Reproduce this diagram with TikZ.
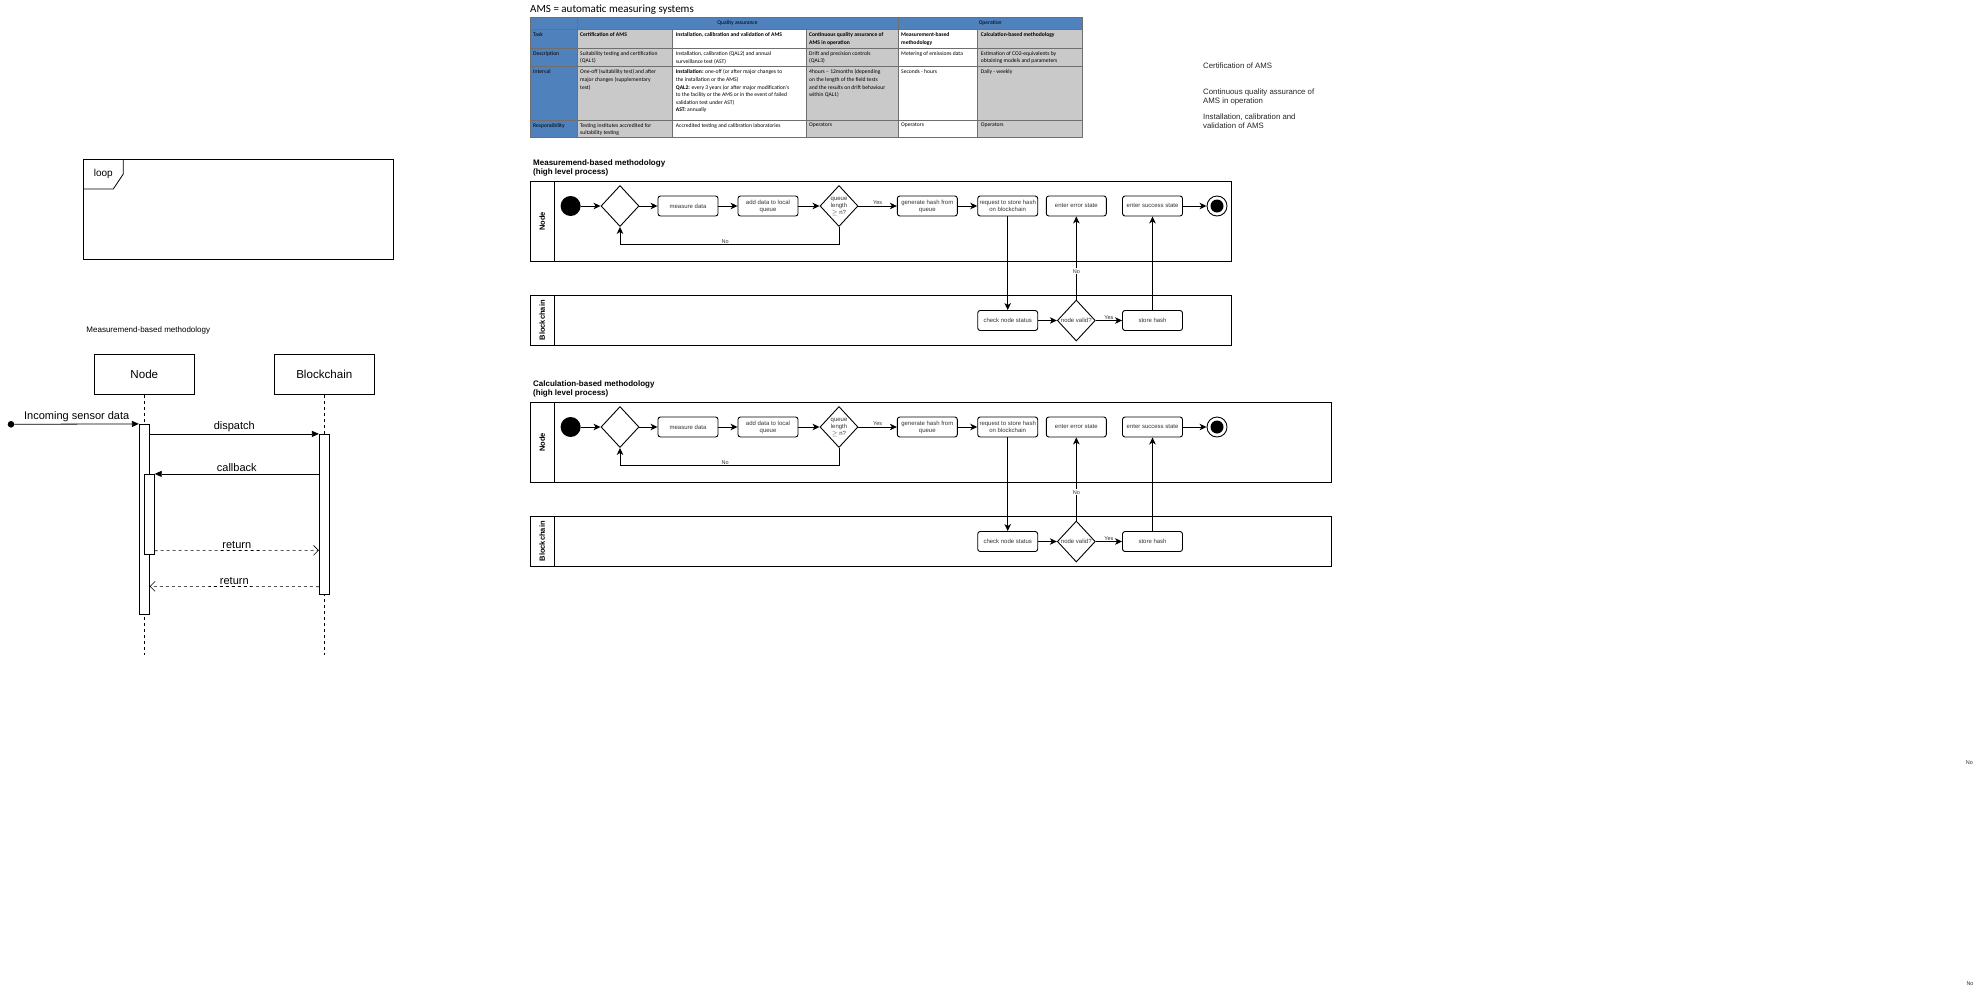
\documentclass[tikz,border=0pt]{standalone}
\usepackage{fontspec}
\setmainfont{Liberation Sans}
\newfontfamily\calibri{Carlito}
\usetikzlibrary{shapes.geometric}
\usetikzlibrary{arrows.meta}

\definecolor{xlblue}{HTML}{4F81BD}
\definecolor{xlgray}{HTML}{C9C9C9}
\definecolor{xlgrid}{HTML}{6F6F6F}

\tikzset{
  cell/.style={anchor=north west,inner sep=0pt,align=left,font=\calibri\fontsize{5.6}{7.6}\selectfont},
  hcell/.style={inner sep=0pt,font=\calibri\fontsize{5.6}{7.6}\selectfont},
  grid/.style={draw=xlgrid,line width=0.5pt},
  lane/.style={draw,line width=0.9pt},
  lanelabel/.style={rotate=90,inner sep=0pt,font=\bfseries\fontsize{7.5}{9}\selectfont},
  ftitle/.style={anchor=north west,inner sep=0pt,align=left,font=\bfseries\fontsize{8}{9.4}\selectfont},
  act/.style={draw,rounded corners=2.5pt,line width=0.9pt,minimum width=60pt,minimum height=20pt,
    inner sep=1pt,align=center,text=black!80,font=\fontsize{6}{7}\selectfont},
  decision/.style={draw,diamond,line width=0.9pt,minimum width=38pt,minimum height=41pt,
    inner sep=0pt,align=center,text=black!80,font=\fontsize{6}{7}\selectfont},
  startdot/.style={circle,fill=black,minimum size=20pt,inner sep=0pt},
  enddot/.style={circle,draw,line width=0.9pt,minimum size=20pt,inner sep=0pt,
    path picture={\fill[black] (path picture bounding box.center) circle (6.5pt);}},
  flow/.style={-{Stealth[length=7pt,width=6.5pt,inset=2pt]},line width=0.9pt},
  lbl/.style={inner sep=1pt,text=black!80,font=\fontsize{5.5}{6.5}\selectfont},
  side/.style={anchor=west,inner sep=0pt,align=left,text=black!85,font=\fontsize{7.8}{9}\selectfont},
  seqbox/.style={draw,line width=0.8pt,minimum width=100pt,minimum height=40pt,font=\fontsize{11.6}{14}\selectfont},
  actbar/.style={draw,fill=white,line width=0.8pt,minimum width=10pt,inner sep=0pt},
  lifeline/.style={dash pattern=on 3pt off 3pt,line width=0.6pt},
  msg/.style={-{Triangle[length=7pt,width=6pt]},line width=0.8pt},
  ret/.style={dash pattern=on 3pt off 3pt,-{Straight Barb[length=5pt,width=10pt]},line width=0.6pt},
  msglbl/.style={inner sep=2pt,font=\fontsize{11}{13}\selectfont}
}

\begin{document}
\begin{tikzpicture}[x=1pt,y=-1pt]
    \useasboundingbox (0,0) rectangle (1975,988);
    \fill[white] (0,0) rectangle (1975,988);

    %table
    \node[anchor=west,inner sep=0pt,font=\calibri\fontsize{11}{13}\selectfont] (ams) at (530,10) {AMS = automatic measuring systems};
    \fill[xlblue] (530,17.3) rectangle (1082.5,29.3);
    \fill[xlblue] (530,29.3) rectangle (577,137.7);
    \fill[xlgray] (577,29.3) rectangle (672.7,137.7);
    \fill[xlgray] (806,29.3) rectangle (898,137.7);
    \fill[xlgray] (977.7,29.3) rectangle (1082.5,137.7);
    \draw[grid] (530,17.3) rectangle (1082.5,137.7);
    \draw[grid] (530,29.3) -- (1082.5,29.3);
    \draw[grid] (530,48.3) -- (1082.5,48.3);
    \draw[grid] (530,66.7) -- (1082.5,66.7);
    \draw[grid] (530,120) -- (1082.5,120);
    \draw[grid] (577,17.3) -- (577,137.7);
    \draw[grid] (898,17.3) -- (898,137.7);
    \draw[grid] (672.7,29.3) -- (672.7,137.7);
    \draw[grid] (806,29.3) -- (806,137.7);
    \draw[grid] (977.7,29.3) -- (977.7,137.7);

    \node[hcell] (t-qa) at (737.5,23.3) {Quality assurance};
    \node[hcell] (t-op) at (990.2,23.3) {Operation};

    \node[cell] (t-task) at (533,32.3) {Task};
    \node[cell] (t-desc) at (533,51.3) {Description};
    \node[cell] (t-int) at (533,69.7) {Interval};
    \node[cell] (t-resp) at (533,123) {Responsibility};

    \node[cell] (t-cert) at (580,32.3) {\textbf{Certification of AMS}};
    \node[cell] (t-certd) at (580,51.3) {Suitability testing and certification\\(QAL1)};
    \node[cell] (t-certi) at (580,69.7) {One-off (suitability test) and after\\major changes (supplementary\\test)};
    \node[cell] (t-certr) at (580,123) {Testing institutes accredited for\\suitability testing};

    \node[cell] (t-inst) at (675.7,32.3) {\textbf{Installation, calibration and validation of AMS}};
    \node[cell] (t-instd) at (675.7,51.3) {Installation, calibration (QAL2) and annual\\surveillance test (AST)};
    \node[cell] (t-insti) at (675.7,69.7) {\textbf{Installation:} one-off (or after major changes to\\the installation or the AMS)\\\textbf{QAL2:} every 3 years (or after major modification's\\to the facility or the AMS or in the event of failed\\validation test under AST)\\\textbf{AST:} annually};
    \node[cell] (t-instr) at (675.7,123) {Accredited testing and calibration laboratories};

    \node[cell] (t-cont) at (809,32.3) {\textbf{Continuous quality assurance of}\\\textbf{AMS in operation}};
    \node[cell] (t-contd) at (809,51.3) {Drift and precision controls\\(QAL3)};
    \node[cell] (t-conti) at (809,69.7) {4hours – 12months (depending\\on the length of the field tests\\and the results on drift behaviour\\within QAL1)};
    \node[cell] (t-contr) at (809,123) {Operators};

    \node[cell] (t-meas) at (901,32.3) {\textbf{Measurement-based}\\\textbf{methodology}};
    \node[cell] (t-measd) at (901,51.3) {Metering of emissions data};
    \node[cell] (t-measi) at (901,69.7) {Seconds - hours};
    \node[cell] (t-measr) at (901,123) {Operators};

    \node[cell] (t-calc) at (980.7,32.3) {\textbf{Calculation-based methodology}};
    \node[cell] (t-calcd) at (980.7,51.3) {Estimation of CO2-equivalents by\\obtaining models and parameters};
    \node[cell] (t-calci) at (980.7,69.7) {Daily - weekly};
    \node[cell] (t-calcr) at (980.7,123) {Operators};

    %side notes
    \node[side] (s-cert) at (1203,66) {Certification of AMS};
    \node[side] (s-cont) at (1203,97.2) {Continuous quality assurance of\\AMS in operation};
    \node[side] (s-inst) at (1203,121.2) {Installation, calibration and\\validation of AMS};

    %measurement-based process
    \node[ftitle] (m-title) at (533,159.3) {Measuremend-based methodology\\(high level process)};
    \draw[lane] (530,181.7) rectangle (1231,261);
    \draw[lane] (554.3,181.7) -- (554.3,261);
    \node[lanelabel] (m-lnode) at (542.2,221.3) {Node};
    \draw[lane] (530,295) rectangle (1231,345.7);
    \draw[lane] (554.3,295) -- (554.3,345.7);
    \node[lanelabel] (m-lbc) at (542.2,320.3) {Blockchain};

    \node[startdot] (m-start) at (570.6,206) {};
    \node[decision] (m-d) at (620,206) {};
    \node[act] (m-meas) at (688,206) {measure data};
    \node[act] (m-add) at (768,206) {add data to local\\queue};
    \node[decision] (m-q) at (839,206) {queue\\length\\$\geq$ n?};
    \node[act] (m-gen) at (927.3,206) {generate hash from\\queue};
    \node[act] (m-req) at (1007.7,206) {request to store hash\\on blockchain};
    \node[act] (m-err) at (1076.3,206) {enter error state};
    \node[act] (m-succ) at (1152.5,206) {enter success state};
    \node[enddot] (m-end) at (1217,206) {};
    \node[act] (m-chk) at (1007.7,320.5) {check node status};
    \node[decision] (m-valid) at (1076.3,320.5) {node valid?};
    \node[act] (m-store) at (1152.5,320.5) {store hash};

    \draw[flow] (m-start) -- (m-d);
    \draw[flow] (m-d) -- (m-meas);
    \draw[flow] (m-meas) -- (m-add);
    \draw[flow] (m-add) -- (m-q);
    \draw[flow] (m-q) -- node[lbl,above] (m-yes1) {Yes} (m-gen);
    \draw[flow] (m-gen) -- (m-req);
    \draw[flow] (m-q.south) -- ++(0,17.9) -| node[lbl,pos=0.26,above] (m-no1) {No} (m-d.south);
    \draw[flow] (m-req) -- (m-chk);
    \draw[flow] (m-chk) -- (m-valid);
    \draw[flow] (m-valid) -- node[lbl,above] (m-yes2) {Yes} (m-store);
    \draw[flow] (m-valid) -- node[lbl,fill=white,pos=0.34] (m-no2) {No} (m-err);
    \draw[flow] (m-store) -- (m-succ);
    \draw[flow] (m-succ) -- (m-end);

    %calculation-based process
    \begin{scope}[yshift=-221pt]
    \node[ftitle] (c-title) at (533,159.3) {Calculation-based methodology\\(high level process)};
    \draw[lane] (530,181.7) rectangle (1331.5,261);
    \draw[lane] (554.3,181.7) -- (554.3,261);
    \node[lanelabel] (c-lnode) at (542.2,221.3) {Node};
    \draw[lane] (530,295) rectangle (1331.5,345.7);
    \draw[lane] (554.3,295) -- (554.3,345.7);
    \node[lanelabel] (c-lbc) at (542.2,320.3) {Blockchain};

    \node[startdot] (c-start) at (570.6,206) {};
    \node[decision] (c-d) at (620,206) {};
    \node[act] (c-meas) at (688,206) {measure data};
    \node[act] (c-add) at (768,206) {add data to local\\queue};
    \node[decision] (c-q) at (839,206) {queue\\length\\$\geq$ n?};
    \node[act] (c-gen) at (927.3,206) {generate hash from\\queue};
    \node[act] (c-req) at (1007.7,206) {request to store hash\\on blockchain};
    \node[act] (c-err) at (1076.3,206) {enter error state};
    \node[act] (c-succ) at (1152.5,206) {enter success state};
    \node[enddot] (c-end) at (1217,206) {};
    \node[act] (c-chk) at (1007.7,320.5) {check node status};
    \node[decision] (c-valid) at (1076.3,320.5) {node valid?};
    \node[act] (c-store) at (1152.5,320.5) {store hash};

    \draw[flow] (c-start) -- (c-d);
    \draw[flow] (c-d) -- (c-meas);
    \draw[flow] (c-meas) -- (c-add);
    \draw[flow] (c-add) -- (c-q);
    \draw[flow] (c-q) -- node[lbl,above] (c-yes1) {Yes} (c-gen);
    \draw[flow] (c-gen) -- (c-req);
    \draw[flow] (c-q.south) -- ++(0,17.9) -| node[lbl,pos=0.26,above] (c-no1) {No} (c-d.south);
    \draw[flow] (c-req) -- (c-chk);
    \draw[flow] (c-chk) -- (c-valid);
    \draw[flow] (c-valid) -- node[lbl,above] (c-yes2) {Yes} (c-store);
    \draw[flow] (c-valid) -- node[lbl,fill=white,pos=0.34] (c-no2) {No} (c-err);
    \draw[flow] (c-store) -- (c-succ);
    \draw[flow] (c-succ) -- (c-end);
    \end{scope}

    %stray labels
    \node[lbl] (no-a) at (1969.3,762.3) {No};
    \node[lbl] (no-b) at (1970,983.3) {No};

    %loop frame
    \draw[line width=0.8pt] (83.3,159.3) rectangle (393.3,259);
    \draw[line width=0.8pt] (83.3,189) -- (113.3,189) -- (123.3,174) -- (123.3,159.3);
    \node[inner sep=0pt,font=\fontsize{10}{12}\selectfont] (loop) at (103.3,174.3) {loop};

    %sequence diagram
    \node[inner sep=0pt,font=\fontsize{8}{10}\selectfont] (sq-title) at (148.3,330) {Measuremend-based methodology};
    \node[seqbox] (sq-node) at (144.3,374.2) {Node};
    \node[seqbox] (sq-bc) at (324.3,374.2) {Blockchain};
    \coordinate (sq-nodeend) at (144.3,655);
    \coordinate (sq-bcend) at (324.3,655);
    \draw[lifeline] (sq-node.south) -- (sq-nodeend);
    \draw[lifeline] (sq-bc.south) -- (sq-bcend);

    \node[actbar,minimum height=190pt] (sq-a1) at (144.3,519.3) {};
    \node[actbar,minimum height=80pt] (sq-a2) at (149.3,514.3) {};
    \node[actbar,minimum height=160pt] (sq-b1) at (324.3,514.3) {};
    \node[circle,fill=black,inner sep=0pt,minimum size=6.6pt] (sq-src) at (11,424.3) {};

    \draw[msg] (sq-src) -- node[msglbl,above] (sq-in) {Incoming sensor data} (sq-a1.north west);
    \draw[msg] ([yshift=-10pt]sq-a1.north east) -- node[msglbl,above] (sq-disp) {dispatch} (sq-b1.north west);
    \draw[msg] ([yshift=-40pt]sq-b1.north west) -- node[msglbl,above] (sq-cb) {callback} (sq-a2.north east);
    \draw[ret] ([yshift=4pt]sq-a2.south east) -- node[msglbl,above] (sq-ret1) {return} ([yshift=-36pt]sq-b1.west);
    \draw[ret] ([yshift=8pt]sq-b1.south west) -- node[msglbl,above] (sq-ret2) {return} ([yshift=-67pt]sq-a1.east);
\end{tikzpicture}
\end{document}
